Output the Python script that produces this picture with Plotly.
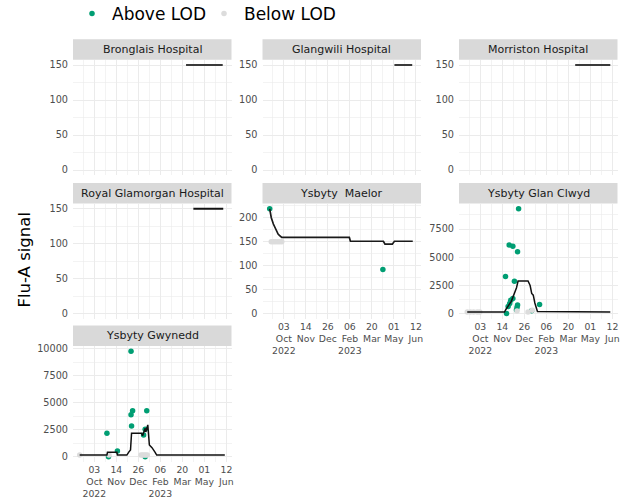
import plotly.graph_objects as go

W, H = 621, 499

# ---------------- data ----------------
SITES = ["Bronglais Hospital", "Glangwili Hospital", "Morriston Hospital",
         "Royal Glamorgan Hospital", "Ysbyty\u00a0 Maelor", "Ysbyty Glan Clwyd",
         "Ysbyty Gwynedd"]

TICK_DATES = ["2022-10-03", "2022-11-14", "2022-12-26", "2023-02-06",
              "2023-03-20", "2023-05-01", "2023-06-12"]
TICK_DAY = ["03", "14", "26", "06", "20", "01", "12"]
TICK_MONTH = ["Oct", "Nov", "Dec", "Feb", "Mar", "May", "Jun"]
TICK_YEAR = ["2022", "", "", "2023", "", "", ""]
MINOR_DATES = ["2022-09-12", "2022-10-24", "2022-12-05", "2023-01-16",
               "2023-02-27", "2023-04-10", "2023-05-22"]

# smoothed signal lines
BRONGLAIS_LINE_DATES = ["2023-03-27", "2023-06-05"]
BRONGLAIS_LINE_VALUES = [150, 150]
GLANGWILI_LINE_DATES = ["2023-05-02", "2023-06-05"]
GLANGWILI_LINE_VALUES = [150, 150]
MORRISTON_LINE_DATES = ["2023-04-02", "2023-06-08"]
MORRISTON_LINE_VALUES = [150, 150]
ROYALGLAM_LINE_DATES = ["2023-04-10", "2023-06-06"]
ROYALGLAM_LINE_VALUES = [150, 150]
MAELOR_LINE_DATES = ["2022-09-06", "2022-09-09", "2022-09-13", "2022-09-16",
                     "2022-09-18", "2022-09-22", "2022-09-25", "2022-09-29",
                     "2023-02-05", "2023-02-07", "2023-04-11", "2023-04-14",
                     "2023-04-28", "2023-05-02", "2023-06-06"]
MAELOR_LINE_VALUES = [218.7, 200, 187, 180, 176, 166, 163, 159,
                      159, 151, 151, 145, 145, 151, 151]
GLANCLWYD_LINE_DATES = ["2022-09-08", "2022-11-18", "2022-11-21", "2022-11-25",
                        "2022-12-01", "2022-12-04", "2022-12-08", "2022-12-11",
                        "2022-12-14", "2023-01-02", "2023-01-06", "2023-01-09",
                        "2023-01-12", "2023-01-15", "2023-01-20", "2023-02-10",
                        "2023-02-12", "2023-06-08"]
GLANCLWYD_LINE_VALUES = [150, 150, 400, 650, 1100, 1450, 1900, 2300,
                         2900, 2900, 2500, 1800, 1650, 950, 200, 200,
                         150, 150]
GWYNEDD_LINE_DATES = ["2022-09-05", "2022-10-27", "2022-10-28", "2022-11-15",
                      "2022-11-16", "2022-12-04", "2022-12-08", "2022-12-11",
                      "2022-12-13", "2023-01-01", "2023-01-03", "2023-01-08",
                      "2023-01-09", "2023-01-13", "2023-01-16", "2023-01-21",
                      "2023-01-27", "2023-01-30", "2023-06-09"]
GWYNEDD_LINE_VALUES = [150, 150, 410, 410, 150, 150, 450, 620,
                       2180, 2180, 1950, 2640, 2300, 2950, 1090, 840,
                       410, 150, 150]

# samples above the limit of detection
MAELOR_ABOVE_DATES = ["2022-09-06", "2023-04-10"]
MAELOR_ABOVE_VALUES = [218.7, 92]
GLANCLWYD_ABOVE_DATES = ["2022-12-15", "2022-11-27", "2022-12-04", "2022-12-13",
                         "2022-11-20", "2022-12-07", "2022-12-04", "2022-11-30",
                         "2022-11-28", "2022-11-25", "2022-12-13", "2022-12-12",
                         "2022-12-11", "2022-11-22", "2023-01-24", "2023-01-09"]
GLANCLWYD_ABOVE_VALUES = [9300, 6080, 5975, 5500, 3300, 2886, 1360, 1200,
                          918, 650, 768, 565, 330, 30, 830, 265]
GWYNEDD_ABOVE_DATES = ["2022-10-27", "2022-11-16", "2022-12-15", "2022-12-12",
                       "2022-12-13", "2022-12-12", "2023-01-11", "2023-01-05",
                       "2023-01-08", "2022-10-30", "2023-01-08"]
GWYNEDD_ABOVE_VALUES = [2178, 530, 4255, 3883, 2858, 9780, 4255, 2020,
                        2551, 0, 0]

# samples below the limit of detection
MAELOR_BELOW_DATES = ["2022-09-09", "2022-09-13", "2022-09-17", "2022-09-21",
                      "2022-09-25", "2022-09-29"]
MAELOR_BELOW_VALUES = [150, 150, 150, 150, 150, 150]
GLANCLWYD_BELOW_DATES = ["2022-09-08", "2022-09-14", "2022-09-20", "2022-09-27",
                         "2022-10-02", "2022-12-12", "2023-01-02", "2023-01-10"]
GLANCLWYD_BELOW_VALUES = [150, 150, 150, 150, 150, 250, 150, 300]
GWYNEDD_BELOW_DATES = ["2022-09-05", "2022-10-31", "2022-12-31", "2023-01-03",
                       "2023-01-06", "2023-01-09", "2023-01-12"]
GWYNEDD_BELOW_VALUES = [150, 150, 150, 150, 150, 150, 150]

LINES = [(BRONGLAIS_LINE_DATES, BRONGLAIS_LINE_VALUES),
         (GLANGWILI_LINE_DATES, GLANGWILI_LINE_VALUES),
         (MORRISTON_LINE_DATES, MORRISTON_LINE_VALUES),
         (ROYALGLAM_LINE_DATES, ROYALGLAM_LINE_VALUES),
         (MAELOR_LINE_DATES, MAELOR_LINE_VALUES),
         (GLANCLWYD_LINE_DATES, GLANCLWYD_LINE_VALUES),
         (GWYNEDD_LINE_DATES, GWYNEDD_LINE_VALUES)]
ABOVE = [None, None, None, None,
         (MAELOR_ABOVE_DATES, MAELOR_ABOVE_VALUES),
         (GLANCLWYD_ABOVE_DATES, GLANCLWYD_ABOVE_VALUES),
         (GWYNEDD_ABOVE_DATES, GWYNEDD_ABOVE_VALUES)]
BELOW = [None, None, None, None,
         (MAELOR_BELOW_DATES, MAELOR_BELOW_VALUES),
         (GLANCLWYD_BELOW_DATES, GLANCLWYD_BELOW_VALUES),
         (GWYNEDD_BELOW_DATES, GWYNEDD_BELOW_VALUES)]

# ---------------- layout config ----------------
FONT = "DejaVu Sans"
GREEN = "#009E73"
GREY_PT = "#DCDCDC"
GRID = "#EBEBEB"
TICK_COL = "#4D4D4D"

COL_X = [(73, 231.5), (262.5, 421), (459, 617.5)]
ROW_Y = [(59.75, 175.25), (203.5, 319), (346, 462)]
STRIP_H = 20.5
X_RANGE = ["2022-08-23 06:00", "2023-06-21 18:00"]
Y_CFG = [((-7.5, 157.5), 50), ((-7.5, 157.5), 50), ((-7.5, 157.5), 50),
         ((-7.5, 157.5), 50), ((-10.94, 229.7), 50), ((-465, 9765), 2500),
         ((-489, 10269), 2500)]
X_LABEL_PANELS = {4, 5, 6}
LINE_STYLE = [("#3a3a3a", 2.2), ("#3a3a3a", 2.2), ("#3a3a3a", 2.2),
              ("#111111", 1.8), ("#1a1a1a", 1.7), ("#111111", 1.5),
              ("#111111", 1.5)]

X_TICKTEXT = ["<br>".join([d, m] + ([y] if y else []))
              for d, m, y in zip(TICK_DAY, TICK_MONTH, TICK_YEAR)]


def px_x(p):
    return p / W


def px_y(p):
    return 1 - p / H


fig = go.Figure()
layout = {}
shapes = []
annotations = []
shown_above = False
shown_below = False

for i, site in enumerate(SITES):
    r, c = divmod(i, 3)
    n = i + 1
    xa = "x" if n == 1 else f"x{n}"
    ya = "y" if n == 1 else f"y{n}"
    x0, x1 = COL_X[c]
    top, bot = ROW_Y[r]

    if ABOVE[i] is not None:
        d, v = ABOVE[i]
        fig.add_trace(go.Scatter(
            x=d, y=v, xaxis=xa, yaxis=ya, mode="markers", name="Above LOD",
            legendgroup="above", showlegend=not shown_above, legendrank=1,
            marker=dict(color=GREEN, size=5.5, line=dict(width=0)),
            hoverinfo="skip"))
        shown_above = True
    if BELOW[i] is not None:
        d, v = BELOW[i]
        fig.add_trace(go.Scatter(
            x=d, y=v, xaxis=xa, yaxis=ya, mode="markers", name="Below LOD",
            legendgroup="below", showlegend=not shown_below, legendrank=2,
            marker=dict(color=GREY_PT, size=5.5, line=dict(width=0)),
            hoverinfo="skip"))
        shown_below = True
    d, v = LINES[i]
    col, wid = LINE_STYLE[i]
    fig.add_trace(go.Scatter(
        x=d, y=v, xaxis=xa, yaxis=ya, mode="lines", showlegend=False,
        line=dict(color=col, width=wid, shape="linear"), hoverinfo="skip"))

    yr, dt = Y_CFG[i]
    show_x = i in X_LABEL_PANELS
    layout["xaxis" if n == 1 else f"xaxis{n}"] = dict(
        domain=[px_x(x0), px_x(x1)], anchor=ya, type="date", range=X_RANGE,
        tickmode="array", tickvals=TICK_DATES, ticktext=X_TICKTEXT,
        tickangle=0, automargin=False,
        showticklabels=show_x, ticks="", showline=False, zeroline=False,
        showgrid=True, gridcolor=GRID, gridwidth=1,
        minor=dict(tickmode="array", tickvals=MINOR_DATES, showgrid=True,
                   gridcolor=GRID, gridwidth=0.6),
        tickfont=dict(family=FONT, size=9.3, color=TICK_COL),
        ticklabelstandoff=1, fixedrange=True)
    layout["yaxis" if n == 1 else f"yaxis{n}"] = dict(
        domain=[px_y(bot), px_y(top)], anchor=xa, range=list(yr),
        tickmode="linear", tick0=0, dtick=dt, tickformat="d", ticks="",
        automargin=False,
        showline=False, zeroline=False, showgrid=True, gridcolor=GRID,
        gridwidth=1,
        minor=dict(tickmode="linear", tick0=0, dtick=dt / 2, showgrid=True,
                   gridcolor=GRID, gridwidth=0.6),
        tickfont=dict(family=FONT, size=9.7, color=TICK_COL),
        ticklabelstandoff=4, fixedrange=True)

    # strip
    shapes.append(dict(type="rect", xref="paper", yref="paper",
                       x0=px_x(x0), x1=px_x(x1), y0=px_y(top),
                       y1=px_y(top - STRIP_H), fillcolor="#D9D9D9",
                       line=dict(width=0), layer="below"))
    annotations.append(dict(text=site, xref="paper", yref="paper",
                            x=px_x((x0 + x1) / 2), y=px_y(top - STRIP_H / 2),
                            xanchor="center", yanchor="middle", showarrow=False,
                            font=dict(family=FONT, size=11, color="#1A1A1A")))

annotations.append(dict(text="Flu-A signal", xref="paper", yref="paper",
                        x=px_x(24), y=px_y(260.5), textangle=-90,
                        xanchor="center", yanchor="middle", showarrow=False,
                        font=dict(family=FONT, size=16.5, color="#000000")))

fig.update_layout(
    width=W, height=H, autosize=False,
    margin=dict(l=0, r=0, t=0, b=0, pad=0, autoexpand=False),
    paper_bgcolor="white", plot_bgcolor="white",
    font=dict(family=FONT, color="#000000"),
    shapes=shapes, annotations=annotations,
    legend=dict(orientation="h", x=px_x(72), y=1.008, xanchor="left",
                yanchor="top", font=dict(family=FONT, size=17, color="#000000"),
                bgcolor="rgba(0,0,0,0)", borderwidth=0, itemsizing="trace",
                entrywidth=87, entrywidthmode="pixels", tracegroupgap=0),
    **layout)

fig.write_html("out.html", include_plotlyjs=True,
               config={"displayModeBar": False, "staticPlot": True})
